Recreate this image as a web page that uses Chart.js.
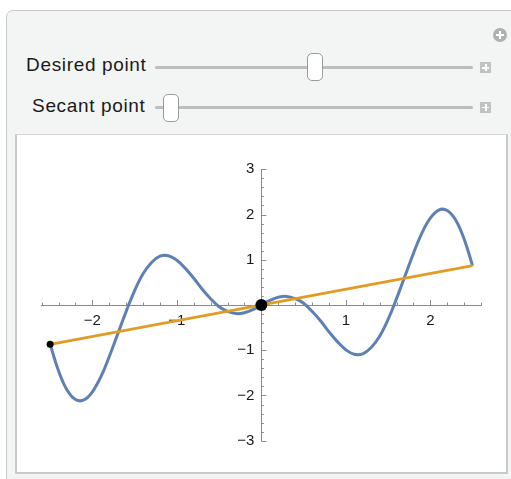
<!DOCTYPE html>
<html>
<head>
<meta charset="utf-8">
<script src="https://cdn.jsdelivr.net/npm/chart.js@4.4.1/dist/chart.umd.min.js"></script>
<style>
  html, body { margin: 0; padding: 0; background: #ffffff; overflow: hidden; }
  body { width: 511px; height: 479px; position: relative; font-family: "Liberation Sans", Arial, sans-serif; }
  .panel { position: absolute; left: 6px; top: 10px; width: 530px; height: 500px; background: #f3f4f4; border: 1px solid #c9c9c9; border-radius: 7px; box-sizing: border-box; }
  .plotbox { position: absolute; left: 15px; top: 134px; width: 493px; height: 340px; background: #ffffff; border: 2px solid #c9c9c9; border-top: 1.5px solid #d6d6d6; box-sizing: border-box; }
  .lbl { position: absolute; font-size: 19px; line-height: 19px; color: #1a1a1a; text-align: right; white-space: nowrap; letter-spacing: 0.65px; }
  .track { position: absolute; height: 3px; background: #bdbdbd; border-radius: 2px; }
  .thumb { position: absolute; width: 16px; height: 28px; background: #ffffff; border: 1px solid #9a9a9a; border-radius: 5px; box-sizing: border-box; }
  .pbtn { position: absolute; width: 11px; height: 11px; background: #c2c2c2; }
  .pbtn::before { content: ""; position: absolute; left: 5px; top: 2px; width: 1.5px; height: 7px; background: #fff; }
  .pbtn::after { content: ""; position: absolute; left: 2px; top: 5px; width: 7px; height: 1.5px; background: #fff; }
  .cplus { position: absolute; left: 493px; top: 28px; width: 14px; height: 14px; border-radius: 50%; background: #b0b0b0; }
  .cplus::before { content: ""; position: absolute; left: 6px; top: 3px; width: 2px; height: 8px; background: #fff; }
  .cplus::after { content: ""; position: absolute; left: 3px; top: 6px; width: 8px; height: 2px; background: #fff; }
  #c { position: absolute; left: 0; top: 0; }
</style>
</head>
<body>
<div class="panel"></div>
<div class="cplus"></div>
<div class="lbl" style="right: 364.5px; top: 55px;">Desired point</div>
<div class="track" style="left: 155px; top: 65.5px; width: 318px;"></div>
<div class="thumb" style="left: 307px; top: 53px;"></div>
<div class="pbtn" style="left: 480px; top: 62px;"></div>
<div class="lbl" style="right: 365.5px; top: 95.5px;">Secant point</div>
<div class="track" style="left: 155px; top: 106px; width: 318px;"></div>
<div class="thumb" style="left: 163px; top: 94px;"></div>
<div class="pbtn" style="left: 480px; top: 101.5px;"></div>
<div class="plotbox"></div>
<canvas id="c" width="511" height="479"></canvas>
<script>
// ---- data ----
const curveX = [-2.5,-2.4,-2.3,-2.2,-2.1,-2.0,-1.9,-1.8,-1.7,-1.6,-1.5,-1.4,-1.3,-1.2,-1.1,-1.0,-0.9,-0.8,-0.7,-0.6,-0.5,-0.4,-0.3,-0.2,-0.1,0,
                0.1,0.2,0.3,0.4,0.5,0.6,0.7,0.8,0.9,1.0,1.1,1.2,1.3,1.4,1.5,1.6,1.7,1.8,1.9,2.0,2.1,2.2,2.3,2.4,2.5];
const curveY = [-0.87,-1.46,-1.88,-2.09,-2.10,-1.92,-1.59,-1.14,-0.64,-0.14,0.32,0.69,0.94,1.08,1.09,0.99,0.81,0.59,0.35,0.14,-0.04,-0.14,-0.19,-0.17,-0.10,0,
                0.10,0.17,0.19,0.14,0.04,-0.14,-0.35,-0.59,-0.81,-0.99,-1.09,-1.08,-0.94,-0.69,-0.32,0.14,0.64,1.14,1.59,1.92,2.10,2.09,1.88,1.46,0.87];
const secantX = [-2.5, 2.5];
const secantY = [-0.87, 0.87];
const markX = [-2.5, 0];
const markY = [-0.87, 0];
const markSize = [3.5, 6];
const xTickValues = [-2, -1, 0, 1, 2];
const yTickValues = [-3, -2, -1, 0, 1, 2, 3];
const xRange = [-2.6, 2.6];
const yRange = [-3, 3];

const toPts = (xs, ys) => xs.map((x, i) => ({x: x, y: ys[i]}));
const fmt = v => v === 0 ? '' : (v < 0 ? '\u2212' + Math.abs(v) : String(v));

const axisDecor = {
  id: 'axisDecor',
  beforeDraw(chart) {
    // keep y labels a little left of the centred axis
    const ys = chart.scales.y;
    const items = ys.getLabelItems(chart.chartArea);
    if (!ys._shifted) {
      items.forEach(it => { it.options.translation[0] -= 7; });
      ys._shifted = true;
    }
  },
  beforeDatasetsDraw(chart) {
    const ctx = chart.ctx, xs = chart.scales.x, ys = chart.scales.y;
    const x0 = xs.getPixelForValue(0), y0 = ys.getPixelForValue(0);
    ctx.save();
    ctx.strokeStyle = '#8a8a8a';
    ctx.lineWidth = 1;
    ctx.beginPath();
    for (let k = -13; k <= 13; k++) {
      const px = Math.round(xs.getPixelForValue(k / 5)) + 0.5;
      const len = (k % 5 === 0) ? 5 : 2.5;
      ctx.moveTo(px, y0); ctx.lineTo(px, y0 - len);
    }
    for (let k = -15; k <= 15; k++) {
      const py = Math.round(ys.getPixelForValue(k / 5)) + 0.5;
      const len = (k % 5 === 0) ? 5 : 2.5;
      ctx.moveTo(x0, py); ctx.lineTo(x0 + len, py);
    }
    ctx.stroke();
    ctx.restore();
  }
};

new Chart(document.getElementById('c'), {
  type: 'line',
  data: {
    datasets: [
      { type: 'scatter', data: toPts(markX, markY), pointRadius: markSize, pointHoverRadius: markSize,
        pointBackgroundColor: '#000', pointBorderWidth: 0, showLine: false },
      { data: toPts(secantX, secantY), borderColor: '#e19c24', borderWidth: 2.8, pointRadius: 0, tension: 0 },
      { data: toPts(curveX, curveY), borderColor: '#5e81b5', borderWidth: 3, pointRadius: 0, tension: 0.4 }
    ]
  },
  options: {
    responsive: false, devicePixelRatio: 1, animation: false,
    layout: { padding: { left: 41.7, right: 30, top: 169.3, bottom: 38.3 } },
    plugins: { legend: { display: false }, tooltip: { enabled: false } },
    scales: {
      x: { type: 'linear', min: xRange[0], max: xRange[1], position: { y: 0 },
           afterBuildTicks: s => { s.ticks = xTickValues.map(v => ({ value: v })); },
           grid: { display: false, drawTicks: false },
           border: { display: true, color: '#8a8a8a', width: 1 },
           ticks: { callback: v => fmt(v), color: '#1a1a1a', padding: 7, maxRotation: 0,
                    font: { family: 'Liberation Sans', size: 15 } } },
      y: { type: 'linear', min: yRange[0], max: yRange[1], position: { x: 0 },
           afterBuildTicks: s => { s.ticks = yTickValues.map(v => ({ value: v })); },
           grid: { display: false, drawTicks: false },
           border: { display: true, color: '#8a8a8a', width: 1 },
           ticks: { callback: v => fmt(v), color: '#1a1a1a', padding: 7,
                    font: { family: 'Liberation Sans', size: 15 } } }
    }
  },
  plugins: [axisDecor]
});
</script>
</body>
</html>
